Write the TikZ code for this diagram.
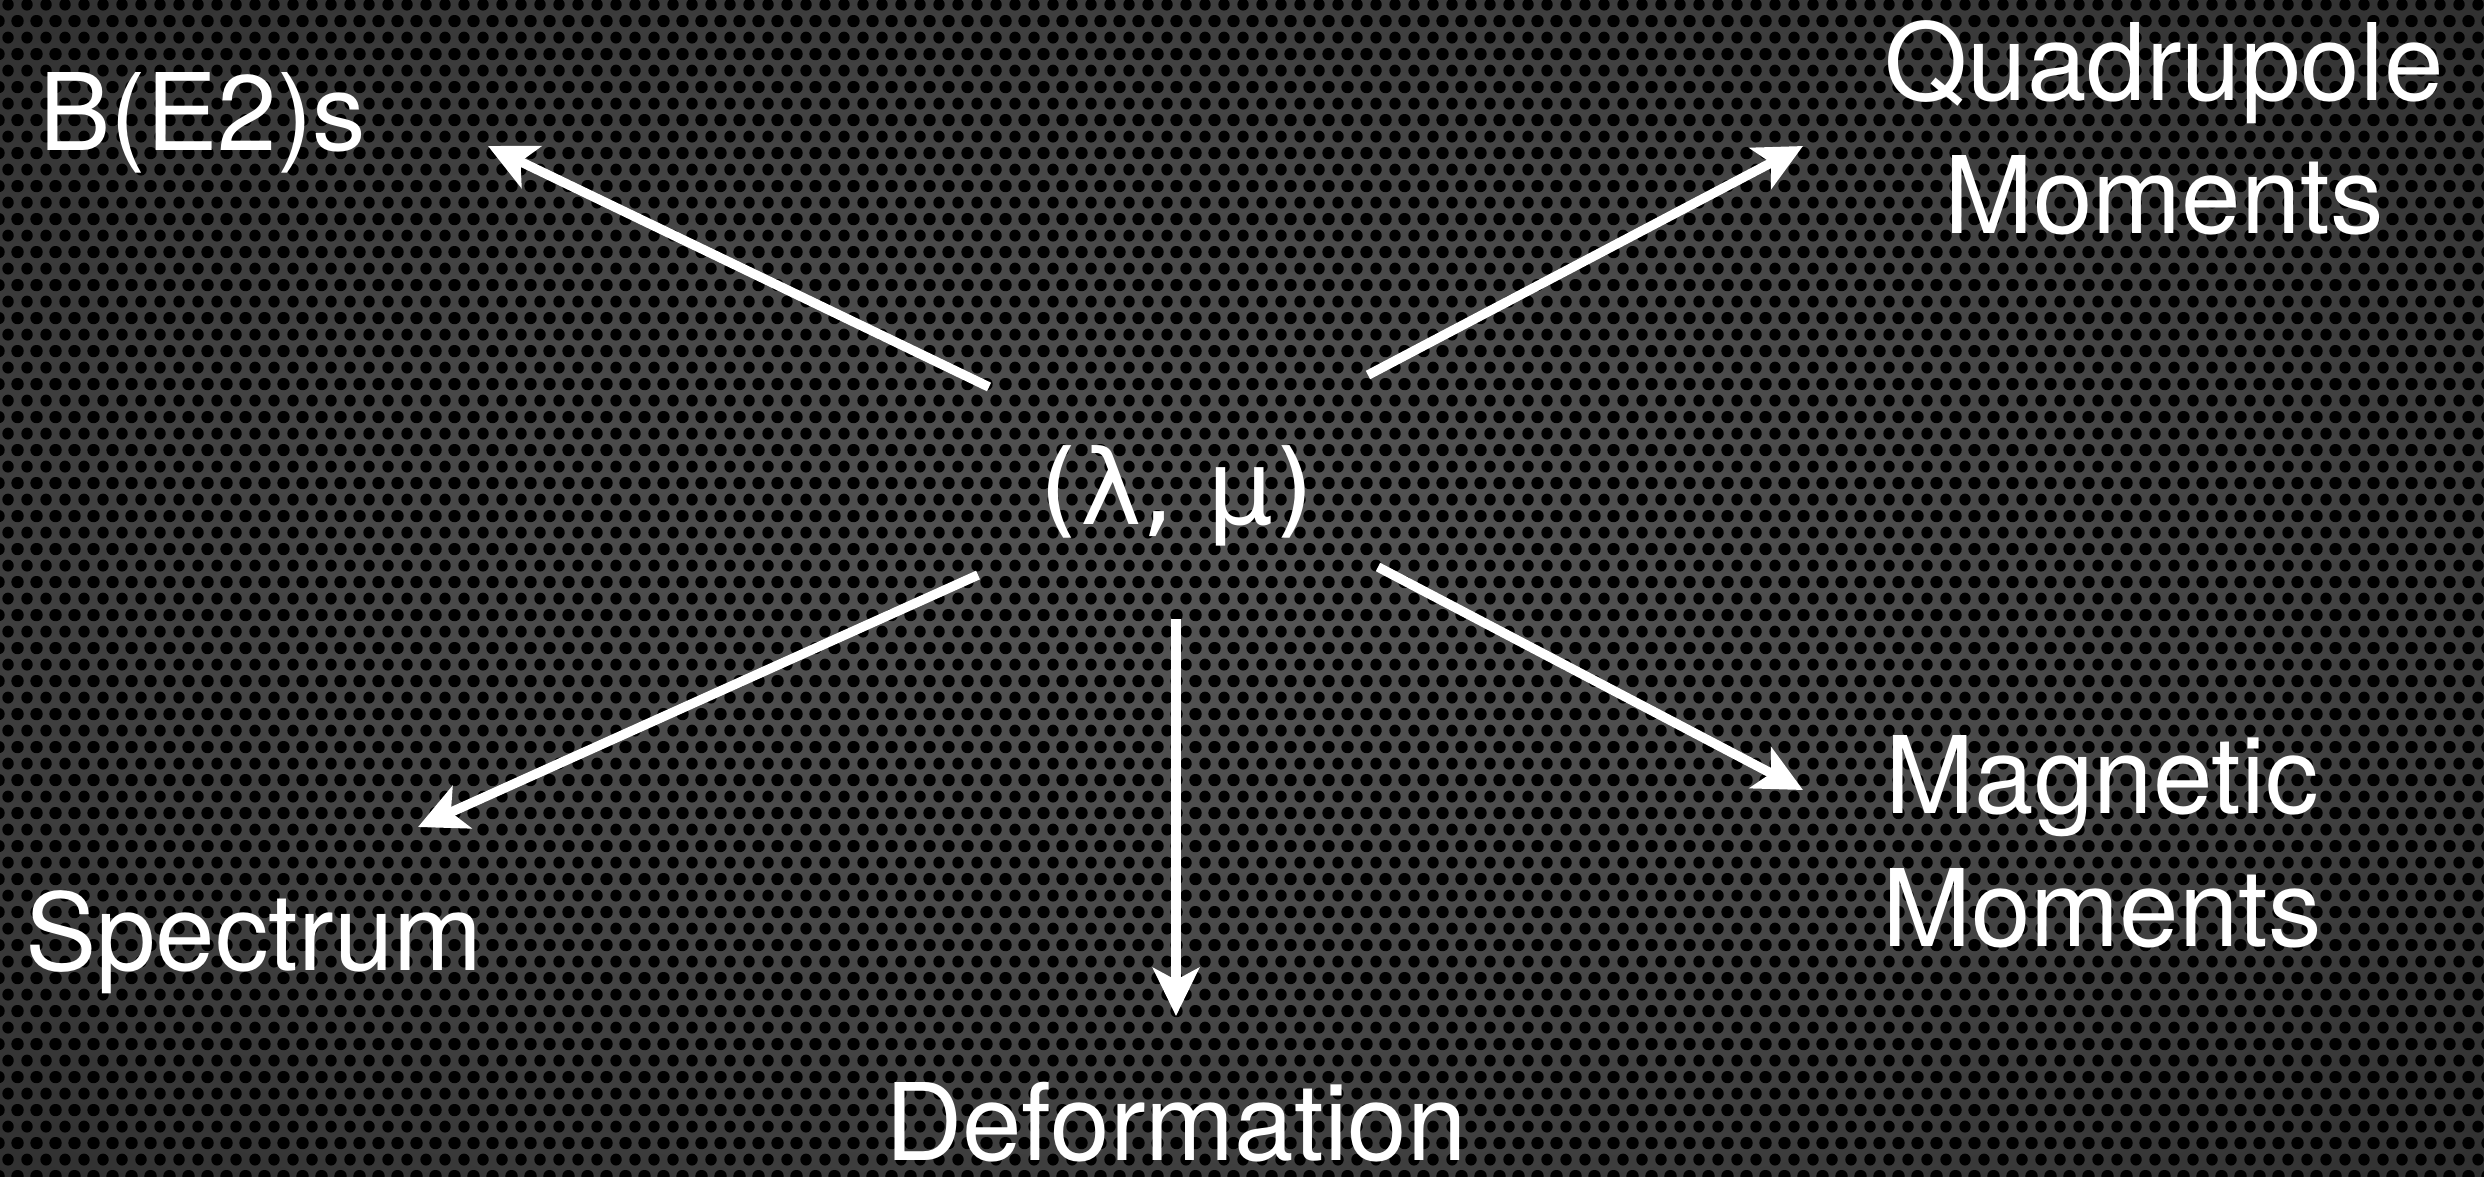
\documentclass[tikz,border=0pt]{standalone}
\usepackage{fontspec}
\setmainfont{TeX Gyre Heros}
\newfontfamily\greekfont{DejaVu Sans}
\usetikzlibrary{arrows.meta,patterns}
\definecolor{bgA}{HTML}{555555}
\definecolor{bgB}{HTML}{474747}
\definecolor{bgC}{HTML}{2A2A2A}
\definecolor{bgD}{HTML}{0A0A0A}
\pgfdeclareradialshading{vign}{\pgfpoint{0bp}{0bp}}{color(0bp)=(bgA); color(18bp)=(bgB); color(40bp)=(bgC); color(62bp)=(bgD); color(75bp)=(bgD)}
\pgfdeclarepatternformonly{hexdots}{\pgfpointorigin}{\pgfpoint{19pt}{32.9pt}}{\pgfpoint{19pt}{32.9pt}}{%
  \pgfpathcircle{\pgfpoint{0pt}{0pt}}{6pt}%
  \pgfpathcircle{\pgfpoint{19pt}{0pt}}{6pt}%
  \pgfpathcircle{\pgfpoint{0pt}{32.9pt}}{6pt}%
  \pgfpathcircle{\pgfpoint{19pt}{32.9pt}}{6pt}%
  \pgfpathcircle{\pgfpoint{9.5pt}{16.45pt}}{6pt}%
  \pgfusepath{fill}}
\begin{document}
\begin{tikzpicture}[x=1pt,y=-1pt,
  lbl/.style={text=white, font=\fontsize{107}{133}\selectfont, align=center, inner sep=0pt, anchor=base},
  arr/.style={draw=white, line width=9.5pt, -{Stealth[length=48pt,width=46pt,inset=12pt]}}]
\useasboundingbox (0,0) rectangle (2484,1176);
\path[shading=vign] (0,0) rectangle (2484,1176);
\fill[pattern=hexdots, pattern color=black] (0,0) rectangle (2484,1176);
% labels (base anchor = baseline of the last line)
\node[lbl] (bee) at (203,150) {B(E2)s};
\node[lbl] (quad) at (2164,233) {Quadrupole\\Moments};
\node[lbl, font=\greekfont\fontsize{104}{120}\selectfont] (lm) at (1177,524) {(λ, μ)};
\node[lbl] (mag) at (2102,946) {Magnetic\\Moments};
\node[lbl] (spec) at (254,970) {Spectrum};
\node[lbl] (def) at (1176,1160) {Deformation};
% connector ends
\coordinate (s1) at (989,387);  \coordinate (t1) at (488,146);
\coordinate (s2) at (1368,375); \coordinate (t2) at (1803,146);
\coordinate (s3) at (978,575);  \coordinate (t3) at (418,827);
\coordinate (s4) at (1176,619); \coordinate (t4) at (1176,1016);
\coordinate (s5) at (1378,567); \coordinate (t5) at (1803,790);
\draw[arr] (s1) -- (t1);
\draw[arr] (s2) -- (t2);
\draw[arr] (s3) -- (t3);
\draw[arr] (s4) -- (t4);
\draw[arr] (s5) -- (t5);
\end{tikzpicture}
\end{document}
